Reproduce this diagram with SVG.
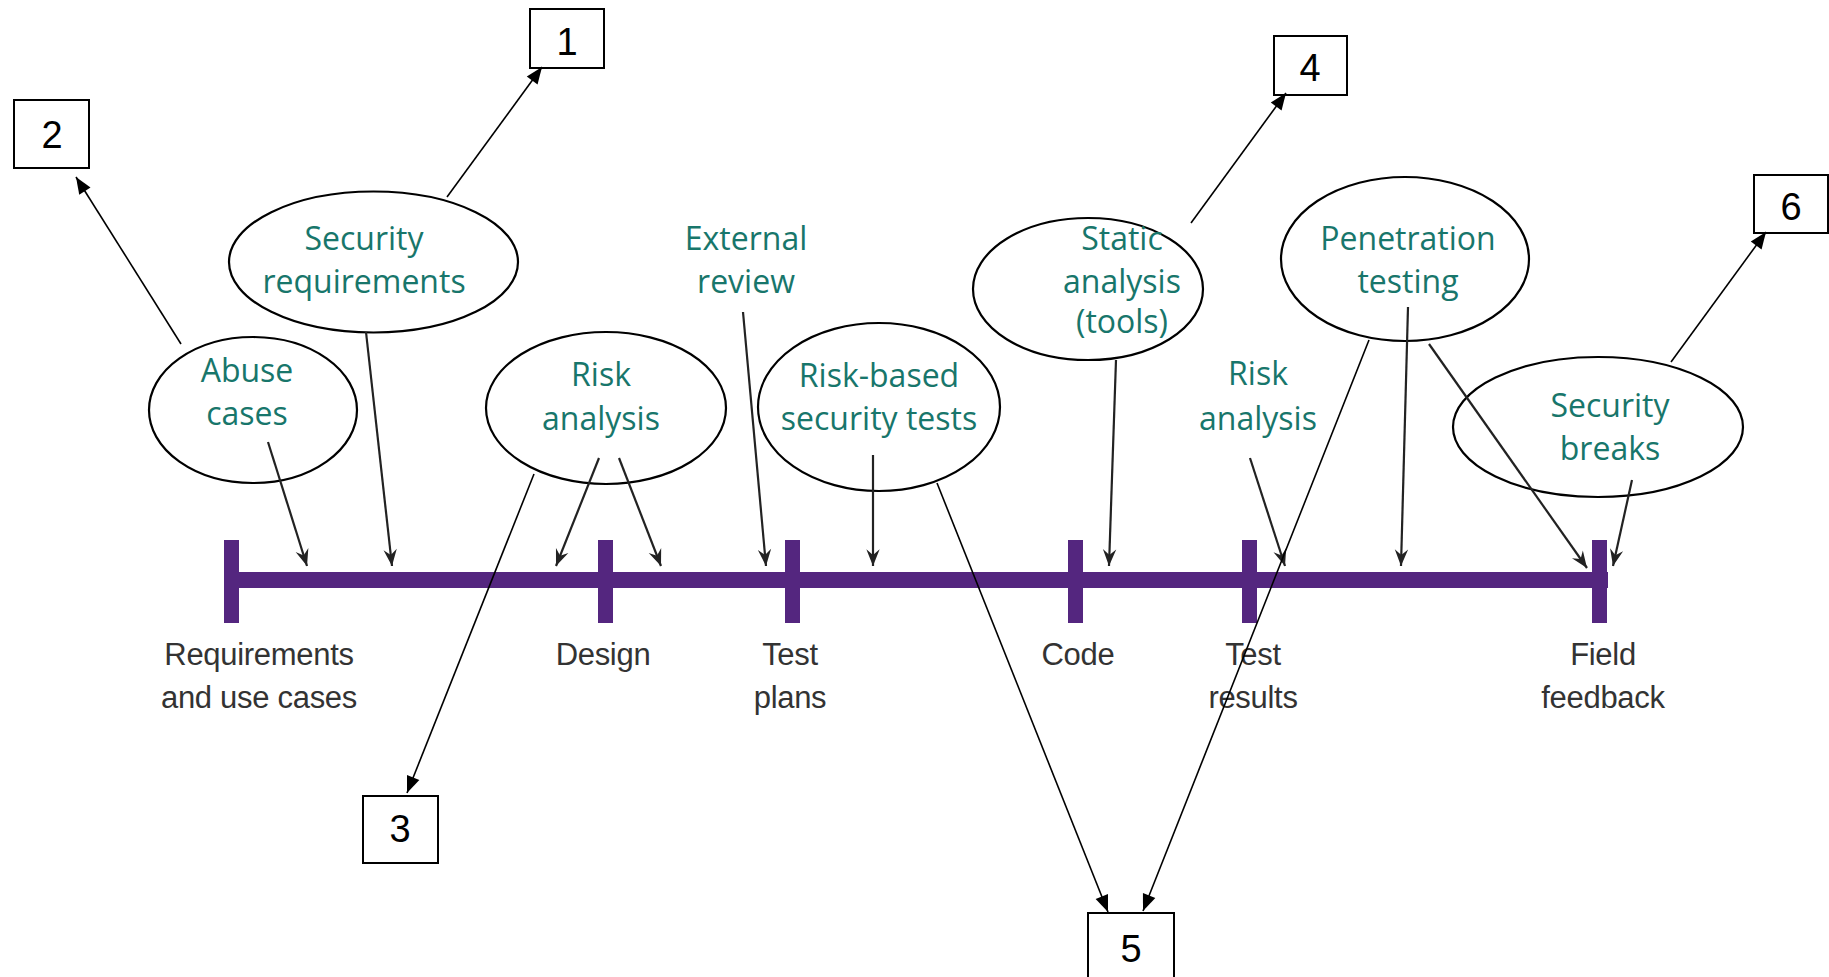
<svg xmlns="http://www.w3.org/2000/svg" width="1829" height="977" viewBox="0 0 1829 977">
<defs>
<style>
.ell{fill:none;stroke:#000;stroke-width:2.2}
.lbl{font-family:"Open Sans","Liberation Sans",sans-serif;font-size:32px;fill:#18766b;text-anchor:middle}
.tl{font-family:"Liberation Sans",Arial,sans-serif;font-size:31px;fill:#333;text-anchor:middle;letter-spacing:-0.3px}
.box{fill:#fff;stroke:#000;stroke-width:2}
.num{font-family:"Liberation Sans",Arial,sans-serif;font-size:38px;fill:#000;text-anchor:middle}
.bar{fill:#54267f}
.dark{stroke:#222;stroke-width:2.2;fill:none;marker-end:url(#dart)}
.thin{stroke:#000;stroke-width:1.6;fill:none;marker-end:url(#tri)}
</style>
<marker id="dart" markerUnits="userSpaceOnUse" markerWidth="20" markerHeight="20" viewBox="-16 -8 18 16" refX="0" refY="0" orient="auto">
<path d="M0,0 L-15,-6 L-10,0 L-15,6 Z" fill="#222"/>
</marker>
<marker id="tri" markerUnits="userSpaceOnUse" markerWidth="20" markerHeight="20" viewBox="-16 -8 18 16" refX="0" refY="0" orient="auto">
<path d="M0,0 L-15,-6 L-15,6 Z" fill="#000"/>
</marker>
</defs>
<rect width="1829" height="977" fill="#fff"/>

<g id="timeline">
<rect class="bar" x="224" y="572" width="1384" height="16"/>
<rect class="bar" x="224" y="540" width="15" height="83"/>
<rect class="bar" x="598" y="540" width="15" height="83"/>
<rect class="bar" x="785" y="540" width="15" height="83"/>
<rect class="bar" x="1068" y="540" width="15" height="83"/>
<rect class="bar" x="1242" y="540" width="15" height="83"/>
<rect class="bar" x="1592" y="540" width="15" height="83"/>
</g>

<g id="phase-requirements"><text class="tl" x="259" y="665">Requirements</text><text class="tl" x="259" y="708">and use cases</text></g>
<g id="phase-design"><text class="tl" x="603" y="665">Design</text></g>
<g id="phase-testplans"><text class="tl" x="790" y="665">Test</text><text class="tl" x="790" y="708">plans</text></g>
<g id="phase-code"><text class="tl" x="1078" y="665">Code</text></g>
<g id="phase-testresults"><text class="tl" x="1253" y="665">Test</text><text class="tl" x="1253" y="708">results</text></g>
<g id="phase-field"><text class="tl" x="1603" y="665">Field</text><text class="tl" x="1603" y="708">feedback</text></g>

<g id="abuse-cases"><ellipse class="ell" cx="253" cy="410" rx="104" ry="73"/><text class="lbl" x="247" y="382">Abuse</text><text class="lbl" x="247" y="425">cases</text></g>
<g id="security-requirements"><ellipse class="ell" cx="373.5" cy="262" rx="144.5" ry="70.5"/><text class="lbl" x="364" y="250">Security</text><text class="lbl" x="364" y="293">requirements</text></g>
<g id="risk-analysis-1"><ellipse class="ell" cx="606" cy="408" rx="120" ry="76"/><text class="lbl" x="601" y="386">Risk</text><text class="lbl" x="601" y="430">analysis</text></g>
<g id="external-review"><text class="lbl" x="746" y="250">External</text><text class="lbl" x="746" y="293">review</text></g>
<g id="risk-based-tests"><ellipse class="ell" cx="879" cy="407" rx="121" ry="84"/><text class="lbl" x="879" y="387">Risk-based</text><text class="lbl" x="879" y="430">security tests</text></g>
<g id="static-analysis"><ellipse class="ell" cx="1088" cy="289" rx="115" ry="71"/><text class="lbl" x="1122" y="250">Static</text><text class="lbl" x="1122" y="293">analysis</text><text class="lbl" x="1122" y="333">(tools)</text></g>
<g id="risk-analysis-2"><text class="lbl" x="1258" y="385">Risk</text><text class="lbl" x="1258" y="430">analysis</text></g>
<g id="penetration-testing"><ellipse class="ell" cx="1405" cy="259" rx="124" ry="82"/><text class="lbl" x="1408" y="250">Penetration</text><text class="lbl" x="1408" y="293">testing</text></g>
<g id="security-breaks"><ellipse class="ell" cx="1598" cy="427" rx="145" ry="70"/><text class="lbl" x="1610" y="417">Security</text><text class="lbl" x="1610" y="460">breaks</text></g>

<g id="box-1"><rect class="box" x="530" y="9" width="74" height="59"/><text class="num" x="567" y="55">1</text></g>
<g id="box-2"><rect class="box" x="14" y="100" width="75" height="68"/><text class="num" x="52" y="148">2</text></g>
<g id="box-3"><rect class="box" x="363" y="796" width="75" height="67"/><text class="num" x="400" y="842">3</text></g>
<g id="box-4"><rect class="box" x="1274" y="36" width="73" height="59"/><text class="num" x="1310" y="81">4</text></g>
<g id="box-5"><rect class="box" x="1088" y="913" width="86" height="80"/><text class="num" x="1131" y="962">5</text></g>
<g id="box-6"><rect class="box" x="1754" y="175" width="74" height="58"/><text class="num" x="1791" y="220">6</text></g>

<g id="connectors">
<line class="dark" x1="268" y1="442" x2="307" y2="566"/>
<line class="dark" x1="366" y1="332" x2="392" y2="566"/>
<line class="dark" x1="599" y1="458" x2="556" y2="566"/>
<line class="dark" x1="619" y1="458" x2="661" y2="566"/>
<line class="dark" x1="743" y1="312" x2="766" y2="566"/>
<line class="dark" x1="873" y1="455" x2="873" y2="566"/>
<line class="dark" x1="1116" y1="360" x2="1109" y2="566"/>
<line class="dark" x1="1250" y1="458" x2="1285" y2="566"/>
<line class="dark" x1="1408" y1="307" x2="1401" y2="566"/>
<line class="dark" x1="1429" y1="344" x2="1587" y2="568"/>
<line class="dark" x1="1632" y1="480" x2="1613" y2="566"/>

<line class="thin" x1="447" y1="197" x2="542" y2="67"/>
<line class="thin" x1="181" y1="344" x2="76" y2="177"/>
<line class="thin" x1="534" y1="474" x2="407" y2="793"/>
<line class="thin" x1="1191" y1="223" x2="1286" y2="93"/>
<line class="thin" x1="937" y1="483" x2="1108" y2="912"/>
<line class="thin" x1="1369" y1="340" x2="1143" y2="911"/>
<line class="thin" x1="1671" y1="362" x2="1766" y2="232"/>
</g>
</svg>
